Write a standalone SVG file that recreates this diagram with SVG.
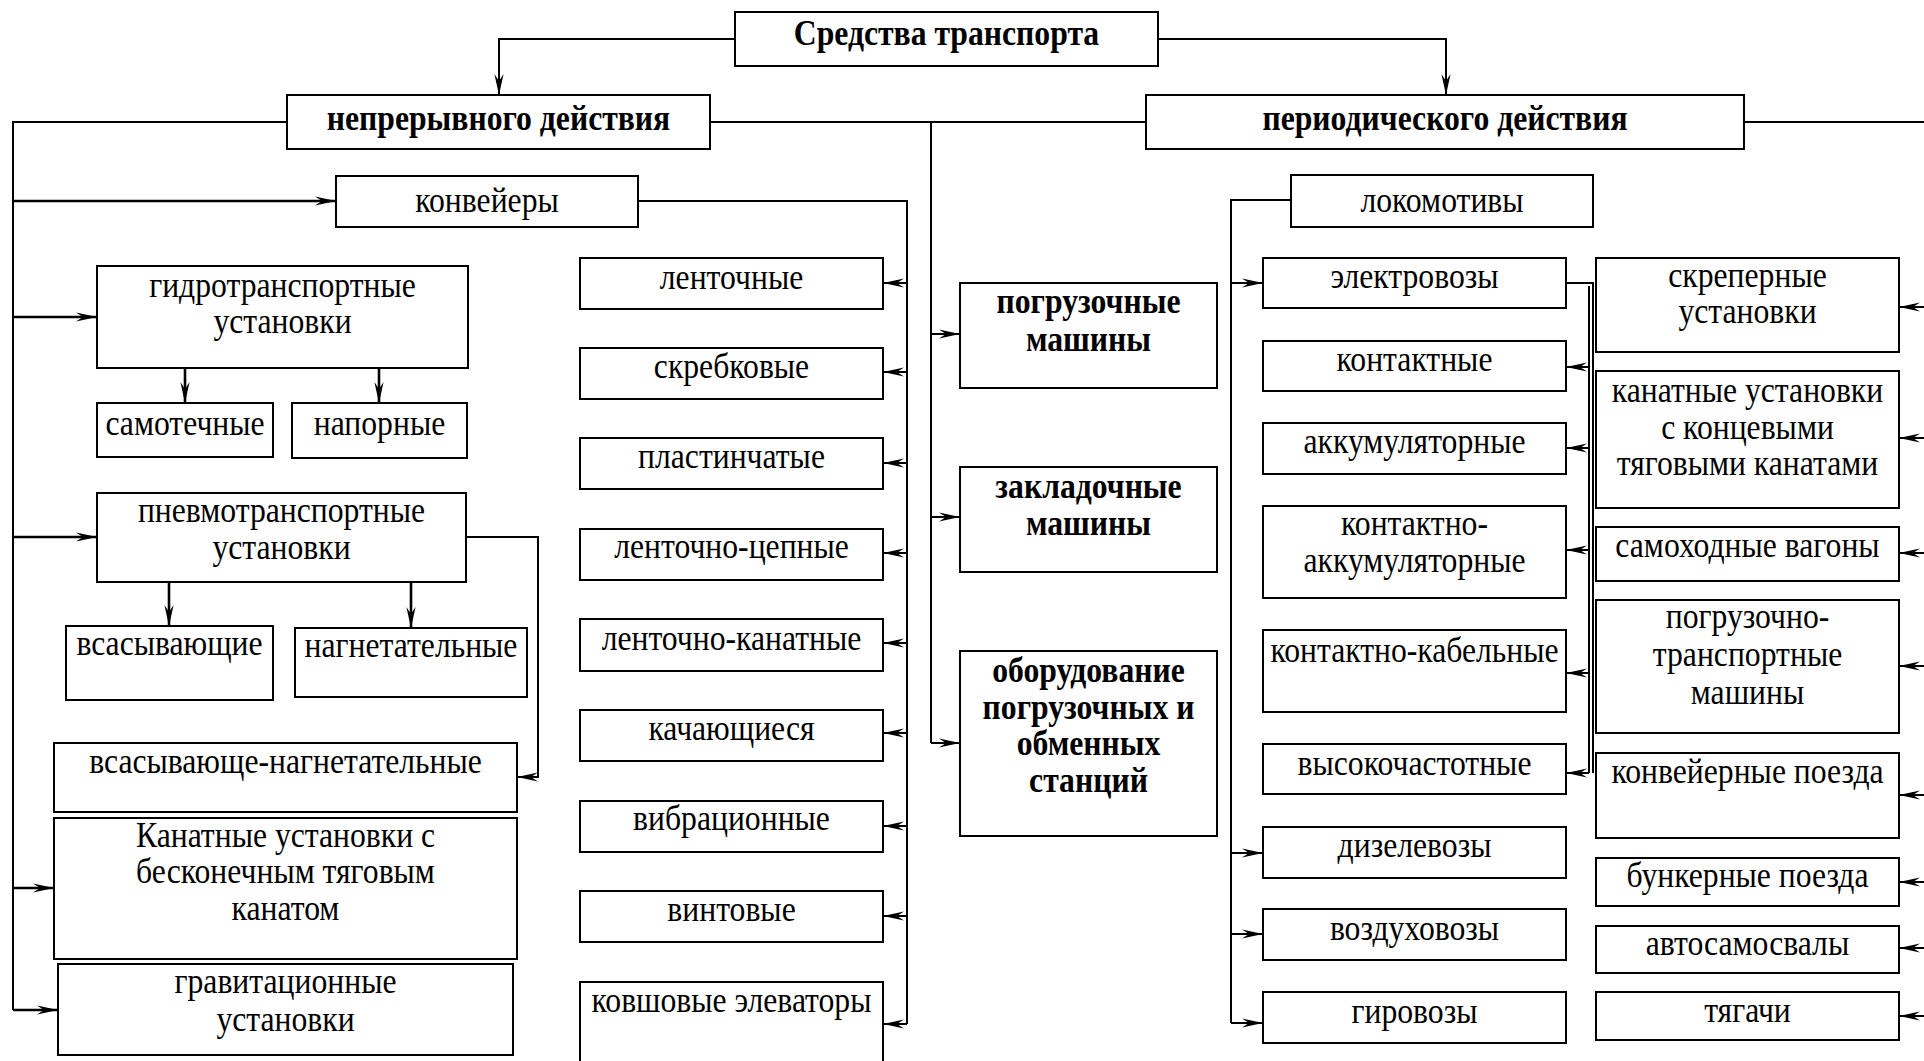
<svg xmlns="http://www.w3.org/2000/svg" width="1924" height="1061" viewBox="0 0 1924 1061">
  <style>
    .box { fill: #fff; stroke: #000; stroke-width: 2; }
    .t { font-family: "Liberation Serif", "Times New Roman", serif; font-size: 36px; text-anchor: middle; fill: #000; }
    .b { font-weight: bold; }
    .ln { fill: none; stroke: #000; stroke-width: 2; }
    .thick { stroke-width: 2.6; }
    .arr { marker-end: url(#ah); }
  </style>
  <defs>
    <marker id="ah" viewBox="-23 -6 24 12" refX="0" refY="0" markerWidth="24" markerHeight="12" markerUnits="userSpaceOnUse" orient="auto">
      <path d="M0,0 L-21,-4.6 L-14,0 L-21,4.6 Z" fill="#000"/>
    </marker>
  </defs>
  <rect width="1924" height="1061" fill="#fff"/>

  <!-- connectors -->
  <g id="connectors">
    <!-- root to the two main classes -->
    <path class="ln arr" d="M735,39 H499 V95"/>
    <path class="ln arr" d="M1158,39 H1446 V95"/>

    <!-- continuous-action trunk on the far left -->
    <path class="ln" d="M287,122 H13 V1010"/>
    <line class="ln thick arr" x1="13" y1="201" x2="336" y2="201"/>
    <line class="ln thick arr" x1="13" y1="317" x2="97" y2="317"/>
    <line class="ln thick arr" x1="13" y1="537" x2="97" y2="537"/>
    <line class="ln thick arr" x1="13" y1="888" x2="54" y2="888"/>
    <line class="ln thick arr" x1="13" y1="1010" x2="58" y2="1010"/>

    <!-- hydro / pneumo sub-types -->
    <line class="ln thick arr" x1="185" y1="368" x2="185" y2="403"/>
    <line class="ln thick arr" x1="379" y1="368" x2="379" y2="403"/>
    <line class="ln thick arr" x1="169" y1="582" x2="169" y2="626"/>
    <line class="ln thick arr" x1="411" y1="582" x2="411" y2="628"/>
    <path class="ln arr" d="M466,537 H538 V777 H517"/>

    <!-- conveyor types -->
    <path class="ln" d="M638,201 H907 V1024"/>
    <line class="ln arr" x1="907" y1="283" x2="883" y2="283"/>
    <line class="ln arr" x1="907" y1="372" x2="883" y2="372"/>
    <line class="ln arr" x1="907" y1="463" x2="883" y2="463"/>
    <line class="ln arr" x1="907" y1="553" x2="883" y2="553"/>
    <line class="ln arr" x1="907" y1="643" x2="883" y2="643"/>
    <line class="ln arr" x1="907" y1="733" x2="883" y2="733"/>
    <line class="ln arr" x1="907" y1="826" x2="883" y2="826"/>
    <line class="ln arr" x1="907" y1="916" x2="883" y2="916"/>
    <line class="ln arr" x1="907" y1="1024" x2="883" y2="1024"/>

    <!-- link between the two main classes and the loading equipment -->
    <path class="ln" d="M710,122 H1146"/>
    <path class="ln" d="M931,122 V743"/>
    <line class="ln arr" x1="931" y1="334" x2="960" y2="334"/>
    <line class="ln arr" x1="931" y1="517" x2="960" y2="517"/>
    <line class="ln arr" x1="931" y1="743" x2="960" y2="743"/>

    <!-- locomotives -->
    <path class="ln" d="M1291,200 H1231 V1023"/>
    <line class="ln arr" x1="1231" y1="283" x2="1263" y2="283"/>
    <line class="ln arr" x1="1231" y1="853" x2="1263" y2="853"/>
    <line class="ln arr" x1="1231" y1="934" x2="1263" y2="934"/>
    <line class="ln arr" x1="1231" y1="1023" x2="1263" y2="1023"/>

    <!-- electric locomotive types (double bus line) -->
    <path class="ln" d="M1566,283 H1593 V773"/>
    <path class="ln" d="M1589,286 V773"/>
    <line class="ln arr" x1="1589" y1="367" x2="1566" y2="367"/>
    <line class="ln arr" x1="1589" y1="448" x2="1566" y2="448"/>
    <line class="ln arr" x1="1589" y1="550" x2="1566" y2="550"/>
    <line class="ln arr" x1="1589" y1="673" x2="1566" y2="673"/>
    <line class="ln arr" x1="1589" y1="773" x2="1566" y2="773"/>

    <!-- periodic-action trunk along the right edge -->
    <path class="ln" d="M1744,122 H1926 V1016"/>
    <line class="ln arr" x1="1926" y1="307" x2="1899" y2="307"/>
    <line class="ln arr" x1="1926" y1="438" x2="1899" y2="438"/>
    <line class="ln arr" x1="1926" y1="553" x2="1899" y2="553"/>
    <line class="ln arr" x1="1926" y1="666" x2="1899" y2="666"/>
    <line class="ln arr" x1="1926" y1="795" x2="1899" y2="795"/>
    <line class="ln arr" x1="1926" y1="882" x2="1899" y2="882"/>
    <line class="ln arr" x1="1926" y1="948" x2="1899" y2="948"/>
    <line class="ln arr" x1="1926" y1="1016" x2="1899" y2="1016"/>
  </g>

  <!-- top level -->
  <g id="root">
    <rect class="box" x="735" y="12" width="423" height="54"/>
    <text class="t b" transform="translate(946.5 45) scale(0.88 1)">Средства транспорта</text>
  </g>
  <g id="continuous">
    <rect class="box" x="287" y="95" width="423" height="54"/>
    <text class="t b" transform="translate(498.5 130) scale(0.88 1)">непрерывного действия</text>
  </g>
  <g id="periodic">
    <rect class="box" x="1146" y="95" width="598" height="54"/>
    <text class="t b" transform="translate(1445 130) scale(0.88 1)">периодического действия</text>
  </g>

  <!-- continuous action -->
  <g id="conveyors">
    <rect class="box" x="336" y="176" width="302" height="51"/>
    <text class="t" transform="translate(487 212) scale(0.88 1)">конвейеры</text>
  </g>
  <g id="hydro">
    <rect class="box" x="97" y="266" width="371" height="102"/>
    <text class="t" transform="translate(282.5 297) scale(0.88 1)"><tspan x="0" y="0">гидротранспортные</tspan><tspan x="0" y="36">установки</tspan></text>
  </g>
  <g id="hydro-gravity">
    <rect class="box" x="97" y="403" width="176" height="54"/>
    <text class="t" transform="translate(185 435) scale(0.88 1)">самотечные</text>
  </g>
  <g id="hydro-pressure">
    <rect class="box" x="292" y="403" width="175" height="55"/>
    <text class="t" transform="translate(379.5 435) scale(0.88 1)">напорные</text>
  </g>
  <g id="pneumo">
    <rect class="box" x="97" y="493" width="369" height="89"/>
    <text class="t" transform="translate(281.5 522) scale(0.88 1)"><tspan x="0" y="0">пневмотранспортные</tspan><tspan x="0" y="37">установки</tspan></text>
  </g>
  <g id="pneumo-suction">
    <rect class="box" x="66" y="626" width="207" height="74"/>
    <text class="t" transform="translate(169.5 655) scale(0.88 1)">всасывающие</text>
  </g>
  <g id="pneumo-pressure">
    <rect class="box" x="295" y="628" width="232" height="69"/>
    <text class="t" transform="translate(411 657) scale(0.88 1)">нагнетательные</text>
  </g>
  <g id="pneumo-combined">
    <rect class="box" x="54" y="743" width="463" height="69"/>
    <text class="t" transform="translate(285.5 773) scale(0.88 1)">всасывающе-нагнетательные</text>
  </g>
  <g id="endless-rope">
    <rect class="box" x="54" y="818" width="463" height="141"/>
    <text class="t" transform="translate(285.5 847) scale(0.88 1)"><tspan x="0" y="0">Канатные установки с</tspan><tspan x="0" y="36.5">бесконечным тяговым</tspan><tspan x="0" y="73">канатом</tspan></text>
  </g>
  <g id="gravity">
    <rect class="box" x="58" y="964" width="455" height="91"/>
    <text class="t" transform="translate(285.5 993) scale(0.88 1)"><tspan x="0" y="0">гравитационные</tspan><tspan x="0" y="38">установки</tspan></text>
  </g>

  <!-- conveyor types -->
  <g id="conv-belt">
    <rect class="box" x="580" y="258" width="303" height="51"/>
    <text class="t" transform="translate(731.5 289) scale(0.88 1)">ленточные</text>
  </g>
  <g id="conv-scraper">
    <rect class="box" x="580" y="348" width="303" height="51"/>
    <text class="t" transform="translate(731.5 378) scale(0.88 1)">скребковые</text>
  </g>
  <g id="conv-plate">
    <rect class="box" x="580" y="438" width="303" height="51"/>
    <text class="t" transform="translate(731.5 468) scale(0.88 1)">пластинчатые</text>
  </g>
  <g id="conv-belt-chain">
    <rect class="box" x="580" y="529" width="303" height="51"/>
    <text class="t" transform="translate(731.5 558) scale(0.88 1)">ленточно-цепные</text>
  </g>
  <g id="conv-belt-rope">
    <rect class="box" x="580" y="619" width="303" height="52"/>
    <text class="t" transform="translate(731.5 650) scale(0.88 1)">ленточно-канатные</text>
  </g>
  <g id="conv-rocking">
    <rect class="box" x="580" y="710" width="303" height="51"/>
    <text class="t" transform="translate(731.5 740) scale(0.88 1)">качающиеся</text>
  </g>
  <g id="conv-vibrating">
    <rect class="box" x="580" y="801" width="303" height="51"/>
    <text class="t" transform="translate(731.5 830) scale(0.88 1)">вибрационные</text>
  </g>
  <g id="conv-screw">
    <rect class="box" x="580" y="891" width="303" height="51"/>
    <text class="t" transform="translate(731.5 921) scale(0.88 1)">винтовые</text>
  </g>
  <g id="conv-bucket">
    <rect class="box" x="580" y="982" width="303" height="95"/>
    <text class="t" transform="translate(731.5 1012) scale(0.88 1)">ковшовые элеваторы</text>
  </g>

  <!-- loading equipment -->
  <g id="loaders">
    <rect class="box" x="960" y="283" width="257" height="105"/>
    <text class="t b" transform="translate(1088.5 313) scale(0.88 1)"><tspan x="0" y="0">погрузочные</tspan><tspan x="0" y="38">машины</tspan></text>
  </g>
  <g id="stowers">
    <rect class="box" x="960" y="467" width="257" height="105"/>
    <text class="t b" transform="translate(1088.5 498) scale(0.88 1)"><tspan x="0" y="0">закладочные</tspan><tspan x="0" y="37">машины</tspan></text>
  </g>
  <g id="stations">
    <rect class="box" x="960" y="651" width="257" height="185"/>
    <text class="t b" transform="translate(1088.5 682) scale(0.88 1)"><tspan x="0" y="0">оборудование</tspan><tspan x="0" y="36.7">погрузочных и</tspan><tspan x="0" y="73.4">обменных</tspan><tspan x="0" y="110">станций</tspan></text>
  </g>

  <!-- locomotives -->
  <g id="locomotives">
    <rect class="box" x="1291" y="175" width="302" height="52"/>
    <text class="t" transform="translate(1442 212) scale(0.88 1)">локомотивы</text>
  </g>
  <g id="electric">
    <rect class="box" x="1263" y="258" width="303" height="50"/>
    <text class="t" transform="translate(1414.5 288) scale(0.88 1)">электровозы</text>
  </g>
  <g id="el-contact">
    <rect class="box" x="1263" y="341" width="303" height="50"/>
    <text class="t" transform="translate(1414.5 371) scale(0.88 1)">контактные</text>
  </g>
  <g id="el-battery">
    <rect class="box" x="1263" y="423" width="303" height="51"/>
    <text class="t" transform="translate(1414.5 453) scale(0.88 1)">аккумуляторные</text>
  </g>
  <g id="el-contact-battery">
    <rect class="box" x="1263" y="506" width="303" height="92"/>
    <text class="t" transform="translate(1414.5 535) scale(0.88 1)"><tspan x="0" y="0">контактно-</tspan><tspan x="0" y="37">аккумуляторные</tspan></text>
  </g>
  <g id="el-contact-cable">
    <rect class="box" x="1263" y="630" width="303" height="82"/>
    <text class="t" transform="translate(1414.5 662) scale(0.88 1)">контактно-кабельные</text>
  </g>
  <g id="el-hf">
    <rect class="box" x="1263" y="744" width="303" height="50"/>
    <text class="t" transform="translate(1414.5 775) scale(0.88 1)">высокочастотные</text>
  </g>
  <g id="diesel">
    <rect class="box" x="1263" y="827" width="303" height="51"/>
    <text class="t" transform="translate(1414.5 857) scale(0.88 1)">дизелевозы</text>
  </g>
  <g id="pneumatic-loco">
    <rect class="box" x="1263" y="909" width="303" height="51"/>
    <text class="t" transform="translate(1414.5 940) scale(0.88 1)">воздуховозы</text>
  </g>
  <g id="gyro">
    <rect class="box" x="1263" y="992" width="303" height="51"/>
    <text class="t" transform="translate(1414.5 1023) scale(0.88 1)">гировозы</text>
  </g>

  <!-- other periodic-action means -->
  <g id="scraper">
    <rect class="box" x="1596" y="258" width="303" height="94"/>
    <text class="t" transform="translate(1747.5 287) scale(0.88 1)"><tspan x="0" y="0">скреперные</tspan><tspan x="0" y="36.5">установки</tspan></text>
  </g>
  <g id="rope-tail">
    <rect class="box" x="1596" y="371" width="303" height="137"/>
    <text class="t" transform="translate(1747.5 402) scale(0.88 1)"><tspan x="0" y="0">канатные установки</tspan><tspan x="0" y="36.6">с концевыми</tspan><tspan x="0" y="73.2">тяговыми канатами</tspan></text>
  </g>
  <g id="shuttle-cars">
    <rect class="box" x="1596" y="527" width="303" height="54"/>
    <text class="t" transform="translate(1747.5 557) scale(0.88 1)">самоходные вагоны</text>
  </g>
  <g id="lhd">
    <rect class="box" x="1596" y="600" width="303" height="133"/>
    <text class="t" transform="translate(1747.5 628) scale(0.88 1)"><tspan x="0" y="0">погрузочно-</tspan><tspan x="0" y="38">транспортные</tspan><tspan x="0" y="76">машины</tspan></text>
  </g>
  <g id="conveyor-trains">
    <rect class="box" x="1596" y="753" width="303" height="85"/>
    <text class="t" transform="translate(1747.5 783) scale(0.88 1)">конвейерные поезда</text>
  </g>
  <g id="bunker-trains">
    <rect class="box" x="1596" y="858" width="303" height="48"/>
    <text class="t" transform="translate(1747.5 887) scale(0.88 1)">бункерные поезда</text>
  </g>
  <g id="dump-trucks">
    <rect class="box" x="1596" y="926" width="303" height="47"/>
    <text class="t" transform="translate(1747.5 955) scale(0.88 1)">автосамосвалы</text>
  </g>
  <g id="tractors">
    <rect class="box" x="1596" y="992" width="303" height="48"/>
    <text class="t" transform="translate(1747.5 1022) scale(0.88 1)">тягачи</text>
  </g>
</svg>
